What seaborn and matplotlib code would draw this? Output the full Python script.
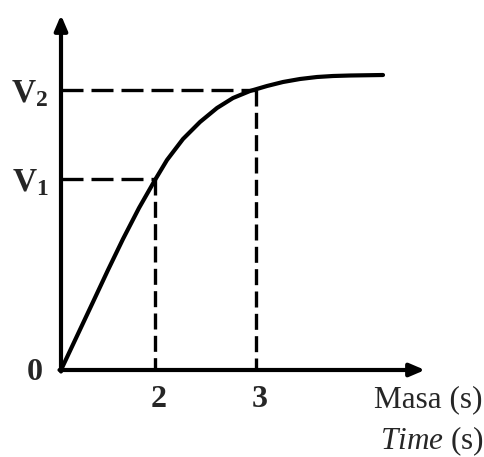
import matplotlib
matplotlib.use("Agg")
import matplotlib.pyplot as plt
import matplotlib.transforms as mtransforms
import seaborn as sns
import pandas as pd

# Curve (distance from the origin, in drawing units)
curve_x = [0, 16, 32, 47, 62, 78, 94, 106, 122, 139, 156, 172, 189, 206,
           222, 239, 256, 272, 289, 322]
curve_y = [0, 34, 68, 100, 131, 162, 190, 210, 231, 248, 262, 272, 279, 284,
           288, 291, 293, 294, 294.5, 295]

# Marked points on the curve
mark_x = [94, 195]
mark_y = [191, 280]
x_tick_labels = ["2", "3"]
y_tick_labels = [r"$\mathbf{V_1}$", r"$\mathbf{V_2}$"]
origin_label = "0"
x_label_1 = "Masa (s)"
x_label_2 = r"$\mathit{Time}$ (s)"

sns.set_theme(style="white")
plt.rcParams["font.family"] = ["Liberation Serif", "DejaVu Serif"]
plt.rcParams["mathtext.fontset"] = "custom"
plt.rcParams["mathtext.rm"] = "Liberation Serif"
plt.rcParams["mathtext.bf"] = "Liberation Serif:bold"
plt.rcParams["mathtext.it"] = "Liberation Serif:italic"

W, H = 485, 457
fig = plt.figure(figsize=(W / 100, H / 100), dpi=100)
fig.patch.set_facecolor("white")
ox, oy = 61, 370
x_end, y_end = 425, 15
ax = fig.add_axes([ox / W, (H - oy) / H, (x_end - ox) / W, (oy - y_end) / H])
ax.set_xlim(0, x_end - ox)
ax.set_ylim(0, oy - y_end)
ax.set_facecolor("white")
for s in ax.spines.values():
    s.set_visible(False)

df = pd.DataFrame({"t": curve_x, "v": curve_y})
sns.lineplot(data=df, x="t", y="v", ax=ax, color="black", linewidth=3.0,
             estimator=None, sort=False)
ax.lines[-1].set_solid_joinstyle("round")
ax.lines[-1].set_solid_capstyle("round")

h_dash = (0, (6.6, 2.4))
v_dash = (0, (4.8, 1.9))
for mx, my in zip(mark_x, mark_y):
    ax.plot([0, mx], [my, my], color="black", linewidth=2.4, linestyle=h_dash,
            dash_capstyle="butt")
    ax.plot([mx, mx], [my, 0], color="black", linewidth=2.4, linestyle=v_dash,
            dash_capstyle="butt")

# axes with arrows
arrow_kw = dict(arrowstyle="-|>,head_length=0.75,head_width=0.32", color="black",
                linewidth=3.0, shrinkA=0, shrinkB=0)
ax.annotate("", xy=(x_end - ox, 0), xytext=(-1.5, 0), arrowprops=arrow_kw,
            annotation_clip=False)
ax.annotate("", xy=(0, oy - y_end), xytext=(0, -1.5), arrowprops=arrow_kw,
            annotation_clip=False)

ax.set_xticks(mark_x, x_tick_labels)
ax.set_yticks(mark_y, y_tick_labels)
ax.tick_params(axis="x", length=0, pad=11, labelsize=23)
ax.tick_params(axis="y", length=0, pad=9, labelsize=24)
shift = mtransforms.ScaledTranslation(4 / 100, 0, fig.dpi_scale_trans)
for lab in ax.get_xticklabels():
    lab.set_fontweight("bold")
    lab.set_transform(lab.get_transform() + shift)
ax.set_xlabel("")
ax.set_ylabel("")

ax.text(-26, -3, origin_label, fontsize=23, fontweight="bold", ha="center",
        va="center", clip_on=False)
ax.text(422, -30, x_label_1, fontsize=22.5, ha="right", va="center", clip_on=False)
ax.text(423, -71, x_label_2, fontsize=22.5, ha="right", va="center", clip_on=False)

fig.savefig("out.png", dpi=100, facecolor="white")
